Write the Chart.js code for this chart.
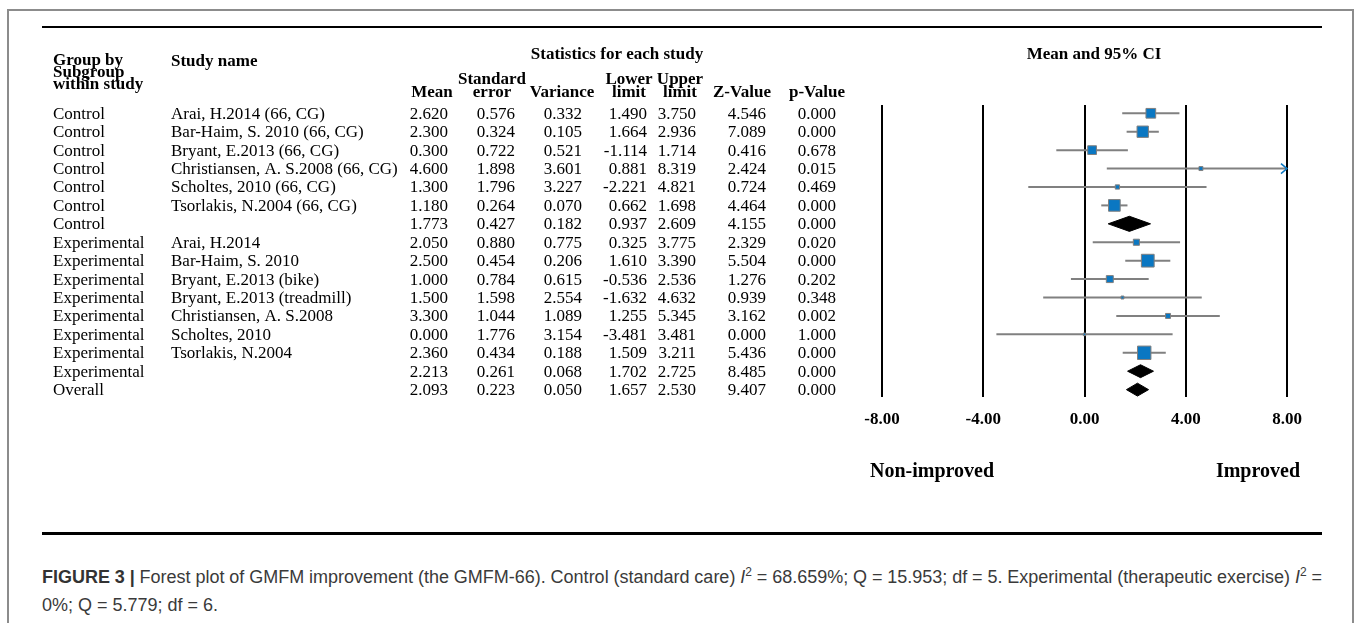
<!DOCTYPE html>
<html>
<head>
<meta charset="utf-8">
<script src="https://cdn.jsdelivr.net/npm/chart.js@4.4.1/dist/chart.umd.min.js"></script>
<style>
  body { margin: 0; background: #fff; width: 1357px; height: 623px; overflow: hidden; position: relative; }
  #frame { position: absolute; left: 7px; top: 9px; width: 1347px; height: 700px; border: 2px solid #8c8c8c; box-sizing: border-box; }
  .rule { position: absolute; left: 42px; width: 1280px; background: #000; }
  #chartBox { position: absolute; left: 0; top: 0; width: 1357px; height: 500px; }
  .caption { position: absolute; left: 42px; font-family: 'Liberation Sans', Arial, sans-serif; font-size: 18px; color: #3a3a3a; line-height: 28px; white-space: nowrap; }
  .caption b { color: #333; }
  sup { font-size: 12px; line-height: 0; }
</style>
</head>
<body>
<div id="frame"></div>
<div class="rule" style="top:26px;height:2px"></div>
<div id="chartBox"><canvas id="forestChart"></canvas></div>
<div class="rule" style="top:532px;height:3px"></div>
<div class="caption" id="capLine1" style="top:563px"><b>FIGURE 3 |</b> Forest plot of GMFM improvement (the GMFM-66). Control (standard care) <i>I</i><sup>2</sup> = 68.659%; Q = 15.953; df = 5. Experimental (therapeutic exercise) <i>I</i><sup>2</sup> =</div>
<div class="caption" style="top:591px">0%; Q = 5.779; df = 6.</div>
<script>
// Table data (one entry per row, top to bottom)
const groups = ['Control', 'Control', 'Control', 'Control', 'Control', 'Control', 'Control',
    'Experimental', 'Experimental', 'Experimental', 'Experimental', 'Experimental', 'Experimental',
    'Experimental', 'Experimental', 'Overall'];
const studies = ['Arai, H.2014 (66, CG)', 'Bar-Haim, S. 2010 (66, CG)', 'Bryant, E.2013 (66, CG)',
    'Christiansen, A. S.2008 (66, CG)', 'Scholtes, 2010 (66, CG)', 'Tsorlakis, N.2004 (66, CG)', '',
    'Arai, H.2014', 'Bar-Haim, S. 2010', 'Bryant, E.2013 (bike)', 'Bryant, E.2013 (treadmill)',
    'Christiansen, A. S.2008', 'Scholtes, 2010', 'Tsorlakis, N.2004', '', ''];
const means = [2.620, 2.300, 0.300, 4.600, 1.300, 1.180, 1.773, 2.050, 2.500, 1.000, 1.500, 3.300, 0.000, 2.360, 2.213, 2.093];
const stdErrors = [0.576, 0.324, 0.722, 1.898, 1.796, 0.264, 0.427, 0.880, 0.454, 0.784, 1.598, 1.044, 1.776, 0.434, 0.261, 0.223];
const variances = [0.332, 0.105, 0.521, 3.601, 3.227, 0.070, 0.182, 0.775, 0.206, 0.615, 2.554, 1.089, 3.154, 0.188, 0.068, 0.050];
const lowerLimits = [1.490, 1.664, -1.114, 0.881, -2.221, 0.662, 0.937, 0.325, 1.610, -0.536, -1.632, 1.255, -3.481, 1.509, 1.702, 1.657];
const upperLimits = [3.750, 2.936, 1.714, 8.319, 4.821, 1.698, 2.609, 3.775, 3.390, 2.536, 4.632, 5.345, 3.481, 3.211, 2.725, 2.530];
const zValues = [4.546, 7.089, 0.416, 2.424, 0.724, 4.464, 4.155, 2.329, 5.504, 1.276, 0.939, 3.162, 0.000, 5.436, 8.485, 9.407];
const pValues = [0.000, 0.000, 0.678, 0.015, 0.469, 0.000, 0.000, 0.020, 0.000, 0.202, 0.348, 0.002, 1.000, 0.000, 0.000, 0.000];
// relative weight (%) within subgroup, estimated from square sizes; null = summary row (diamond)
const weights = [19.9, 26.5, 16.5, 4.3, 4.8, 27.9, null, 8.8, 32.9, 11.1, 2.7, 6.2, 2.2, 36.1, null, null];
const xTicks = [-8, -4, 0, 4, 8];

const blue = '#0a77c2';
const grey = '#808080';

const studyRows = weights.map((w, i) => w === null ? -1 : i).filter(i => i >= 0);
const summaryRows = weights.map((w, i) => w === null ? i : -1).filter(i => i >= 0);

const datasets = [];

// squares (on top)
datasets.push({
    type: 'scatter',
    order: 0,
    data: studyRows.map(i => ({ x: means[i], y: i })),
    pointStyle: 'rect',
    pointRadius: studyRows.map(i => (2.4 * Math.sqrt(weights[i]) - 1) / Math.SQRT2),
    backgroundColor: blue,
    borderColor: grey,
    borderWidth: 1
});

// diamonds for subgroup / overall summaries
summaryRows.forEach(i => {
    const h = groups[i] === 'Control' ? 0.41 : 0.35;
    datasets.push({
        type: 'scatter',
        order: 0,
        showLine: true,
        data: [
            { x: lowerLimits[i], y: i },
            { x: means[i], y: i - h },
            { x: upperLimits[i], y: i },
            { x: means[i], y: i + h },
            { x: lowerLimits[i], y: i }
        ],
        fill: 'shape',
        backgroundColor: '#000',
        borderColor: '#000',
        borderWidth: 1,
        pointRadius: 0
    });
});

// confidence interval lines
studyRows.forEach(i => {
    datasets.push({
        type: 'scatter',
        order: 1,
        showLine: true,
        data: [{ x: lowerLimits[i], y: i }, { x: upperLimits[i], y: i }],
        borderColor: grey,
        borderWidth: 2,
        pointRadius: 0
    });
});

// table text, headings and arrows for intervals running off the axis
const tablePlugin = {
    id: 'forestTable',
    afterDraw(chart) {
        const ctx = chart.ctx;
        const xs = chart.scales.x;
        const ys = chart.scales.y;
        ctx.save();
        ctx.fillStyle = '#000';

        // headings
        ctx.font = "bold 17px 'Liberation Serif'";
        ctx.textBaseline = 'alphabetic';
        ctx.textAlign = 'left';
        ctx.fillText('Group by', 53, 65);
        ctx.fillText('Subgroup', 53, 77);
        ctx.fillText('within study', 53, 89);
        ctx.fillText('Study name', 171, 66);
        ctx.textAlign = 'center';
        ctx.fillText('Statistics for each study', 617, 59);
        ctx.fillText('Mean and 95% CI', 1094, 59);
        ctx.fillText('Standard', 492, 84);
        ctx.fillText('Lower', 629, 84);
        ctx.fillText('Upper', 680, 84);
        [['Mean', 432], ['error', 492], ['Variance', 562], ['limit', 629], ['limit', 680],
         ['Z-Value', 742], ['p-Value', 817]].forEach(([t, x]) => ctx.fillText(t, x, 97));

        // rows
        ctx.font = "17px 'Liberation Serif'";
        const cols = [[means, 448], [stdErrors, 515], [variances, 582], [lowerLimits, 647],
                      [upperLimits, 696], [zValues, 766], [pValues, 836]];
        groups.forEach((g, i) => {
            const y = ys.getPixelForValue(i) + 5.5;
            ctx.textAlign = 'left';
            ctx.fillText(g, 53, y);
            ctx.fillText(studies[i], 171, y);
            ctx.textAlign = 'right';
            cols.forEach(([arr, x]) => ctx.fillText(arr[i].toFixed(3), x, y));
        });

        // arrows where the interval is cut by the axis
        ctx.strokeStyle = blue;
        ctx.lineWidth = 1.5;
        groups.forEach((g, i) => {
            if (upperLimits[i] > xs.max) {
                const px = xs.getPixelForValue(xs.max);
                const py = ys.getPixelForValue(i);
                ctx.beginPath();
                ctx.moveTo(px - 6, py - 5);
                ctx.lineTo(px, py);
                ctx.lineTo(px - 6, py + 5);
                ctx.stroke();
            }
        });

        // direction labels
        ctx.fillStyle = '#000';
        ctx.font = "bold 20px 'Liberation Serif'";
        ctx.textBaseline = 'middle';
        ctx.textAlign = 'left';
        ctx.fillText('Non-improved', chart.chartArea.left - 12, 472);
        ctx.textAlign = 'right';
        ctx.fillText('Improved', chart.chartArea.right + 13, 472);
        ctx.restore();
    }
};

new Chart(document.getElementById('forestChart'), {
    type: 'scatter',
    data: { datasets: datasets },
    options: {
        responsive: true,
        maintainAspectRatio: false,
        animation: false,
        layout: { padding: { left: 882, right: 70, top: 105, bottom: 63 } },
        plugins: { legend: { display: false }, tooltip: { enabled: false } },
        scales: {
            x: {
                type: 'linear',
                min: xTicks[0],
                max: xTicks[xTicks.length - 1],
                afterBuildTicks: s => { s.ticks = xTicks.map(v => ({ value: v })); },
                afterFit: s => { s.height = 40; },
                grid: { color: '#000', lineWidth: 2, drawTicks: false },
                border: { display: false },
                ticks: {
                    padding: 12,
                    color: '#000',
                    font: { family: 'Liberation Serif', size: 17, weight: 'bold' },
                    callback: v => v.toFixed(2)
                }
            },
            y: {
                type: 'linear',
                display: false,
                reverse: true,
                min: -0.45,
                max: 15.4
            }
        }
    },
    plugins: [tablePlugin]
});

// stretch the first caption line to the rule width, like the justified journal caption
const cap = document.getElementById('capLine1');
const gaps = (cap.textContent.match(/ /g) || []).length;
cap.style.wordSpacing = ((1280 - cap.offsetWidth) / gaps) + 'px';
</script>
</body>
</html>
